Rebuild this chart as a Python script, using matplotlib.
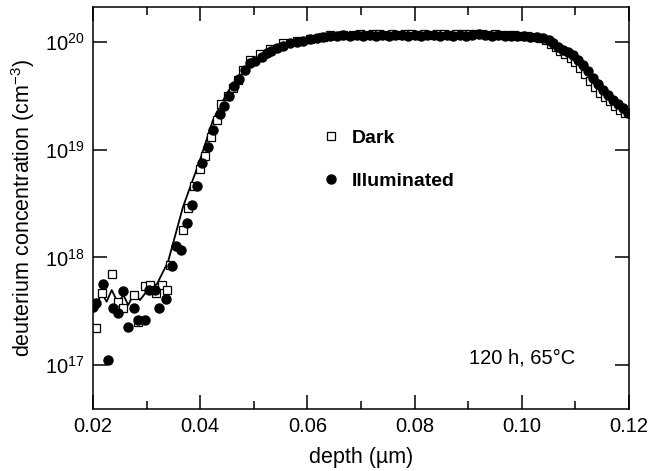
import numpy as np
import matplotlib
matplotlib.use("Agg")
import matplotlib.pyplot as plt
from matplotlib.ticker import MultipleLocator, LogLocator, NullLocator

plt.rcParams['font.family'] = ['Liberation Sans', 'DejaVu Sans']
plt.rcParams['mathtext.fontset'] = 'custom'
plt.rcParams['mathtext.rm'] = 'Liberation Sans'
plt.rcParams['mathtext.it'] = 'Liberation Sans:italic'

# illuminated sample (filled circles): depth in um, log10 of concentration
illum_depth = [0.0200, 0.02056, 0.0218, 0.02274, 0.02379, 0.0246, 0.02566, 0.0266, 0.02765, 0.02845,
               0.0297, 0.0305, 0.03157, 0.03237, 0.03362, 0.03468, 0.03549, 0.03636, 0.03748, 0.03841,
               0.03935, 0.04034, 0.04151, 0.04233, 0.04369, 0.04444, 0.04537, 0.04631, 0.04729, 0.04836,
               0.04929, 0.05022, 0.05147, 0.05241, 0.0533, 0.05427, 0.0555, 0.05675, 0.058, 0.05924,
               0.0605, 0.06173, 0.063, 0.06422, 0.0655, 0.0667,
               0.0680, 0.0692, 0.0704, 0.0716, 0.0728, 0.0740, 0.0752, 0.0764, 0.0776, 0.0788,
               0.0800, 0.0812, 0.0824, 0.0836, 0.0848, 0.0860, 0.0872, 0.0884, 0.0896, 0.0908,
               0.0920, 0.0932, 0.0944, 0.0956, 0.0968, 0.0980, 0.0992, 0.1004, 0.1016, 0.1028,
               0.1040, 0.1050, 0.1058, 0.1068, 0.1077, 0.1086, 0.1096, 0.1105, 0.1114, 0.1123,
               0.1133, 0.1142, 0.1152, 0.1161, 0.1170, 0.1179, 0.1189, 0.1198]
illum_log = [17.54, 17.574, 17.75, 17.047, 17.527, 17.48, 17.69, 17.35, 17.527, 17.42,
             17.42, 17.70, 17.70, 17.527, 17.61, 17.92, 18.106, 18.07, 18.317, 18.487,
             18.663, 18.881, 19.028, 19.183, 19.331, 19.406, 19.499, 19.591, 19.654, 19.740,
             19.808, 19.826, 19.864, 19.895, 19.920, 19.942, 19.965, 19.988, 20.000, 20.012,
             20.025, 20.034, 20.045, 20.056, 20.058, 20.065,
             20.055, 20.062, 20.058, 20.066, 20.060, 20.064, 20.058, 20.063, 20.067, 20.060,
             20.064, 20.058, 20.062, 20.066, 20.060, 20.063, 20.058, 20.064, 20.060, 20.066,
             20.070, 20.064, 20.060, 20.062, 20.058, 20.056, 20.055, 20.052, 20.050, 20.045,
             20.037, 20.015, 19.991, 19.955, 19.926, 19.905, 19.879, 19.83, 19.786, 19.73,
             19.666, 19.61, 19.554, 19.51, 19.461, 19.42, 19.387, 19.341]

# dark sample (open squares)
dark_depth = [0.0205, 0.0216, 0.0235, 0.0247, 0.02566, 0.02765, 0.02845, 0.0297, 0.03063, 0.0317,
              0.03282, 0.03375, 0.03437, 0.03685, 0.03778, 0.03884, 0.03996, 0.0409, 0.04201, 0.04308,
              0.04382, 0.04513, 0.04612, 0.04711, 0.04804, 0.04929, 0.05116, 0.05302, 0.0555, 0.058,
              0.0605, 0.063, 0.06422, 0.0667,
              0.0686, 0.0698, 0.0710, 0.0722, 0.0734, 0.0746, 0.0758, 0.0770, 0.0782, 0.0794,
              0.0806, 0.0818, 0.0830, 0.0842, 0.0854, 0.0866, 0.0878, 0.0890, 0.0902, 0.0914,
              0.0926, 0.0938, 0.0950, 0.0962, 0.0974, 0.0986, 0.0998, 0.1010, 0.1022, 0.1034,
              0.1045, 0.1054, 0.1063, 0.1072, 0.1081, 0.1091, 0.1100, 0.1109, 0.1118, 0.1128,
              0.1137, 0.1146, 0.1156, 0.1165, 0.1174, 0.1184, 0.1193]
dark_log = [17.34, 17.667, 17.846, 17.59, 17.527, 17.65, 17.40, 17.73, 17.744, 17.667,
            17.744, 17.70, 17.93, 18.254, 18.463, 18.666, 18.824, 18.937, 19.121, 19.276,
            19.424, 19.499, 19.573, 19.647, 19.740, 19.833, 19.889, 19.935, 19.988, 20.010,
            20.030, 20.048, 20.062, 20.068,
            20.068, 20.072, 20.066, 20.074, 20.070, 20.066, 20.072, 20.068, 20.074, 20.070,
            20.066, 20.072, 20.068, 20.074, 20.070, 20.066, 20.072, 20.070, 20.074, 20.078,
            20.072, 20.068, 20.070, 20.066, 20.064, 20.062, 20.058, 20.055, 20.050, 20.040,
            20.02, 19.985, 19.95, 19.915, 19.885, 19.855, 19.81, 19.76, 19.70, 19.64,
            19.58, 19.53, 19.49, 19.45, 19.41, 19.37, 19.34]

# solid line
line_depth = [0.02006, 0.02162, 0.02256, 0.02349, 0.02472, 0.02565, 0.02659, 0.02765, 0.02877, 0.03063,
              0.03194, 0.03399, 0.03679, 0.03996, 0.04239, 0.045, 0.04799, 0.05246, 0.05675, 0.06179,
              0.06739, 0.075, 0.085, 0.095, 0.100, 0.10396, 0.10582, 0.10769, 0.10955, 0.11142,
              0.11328, 0.11515, 0.11701, 0.11888, 0.11981]
line_log = [17.496, 17.667, 17.589, 17.697, 17.574, 17.651, 17.558, 17.667, 17.604, 17.725,
            17.753, 17.957, 18.468, 18.904, 19.276, 19.526, 19.740, 19.898, 19.991, 20.046,
            20.065, 20.07, 20.07, 20.075, 20.065, 20.046, 20.0, 19.944, 19.879, 19.796,
            19.684, 19.573, 19.471, 19.387, 19.350]

fig = plt.figure(figsize=(6.52, 4.71), dpi=100)
ax = fig.add_axes([0.1426, 0.1316, 0.8221, 0.8535])

ax.plot(line_depth, 10 ** np.array(line_log), '-', color='black', lw=1.3, zorder=1)
ax.plot(dark_depth, 10 ** np.array(dark_log), 's', mfc='white', mec='black', mew=0.9, ms=6,
        ls='none', label='Dark', zorder=2)
ax.plot(illum_depth, 10 ** np.array(illum_log), 'o', mfc='black', mec='black', ms=6.5,
        ls='none', label='Illuminated', zorder=3)

ax.set_yscale('log')
ax.set_xlim(0.02, 0.12)
ax.set_ylim(10 ** 16.592, 10 ** 20.325)
ax.xaxis.set_major_locator(MultipleLocator(0.02))
ax.xaxis.set_minor_locator(MultipleLocator(0.01))
ax.xaxis.set_major_formatter(matplotlib.ticker.FormatStrFormatter('%.2f'))
ax.yaxis.set_major_locator(LogLocator(base=10, numticks=10))
ax.yaxis.set_minor_locator(NullLocator())

ax.tick_params(which='both', direction='in', top=True, right=True, width=1.1, labelsize=14.5)
ax.tick_params(which='major', length=10, pad=6)
ax.tick_params(which='minor', length=5.5)
for s in ax.spines.values():
    s.set_linewidth(1.1)

ax.set_xlabel('depth (\u00b5m)', fontsize=15.5, labelpad=8)
ax.set_ylabel('deuterium concentration (cm$^{-3}$)', fontsize=15.5, labelpad=6)

leg = ax.legend(loc='upper left', bbox_to_anchor=(0.393, 0.74), frameon=False,
                prop={'weight': 'bold', 'size': 14}, handlelength=1.0, handletextpad=0.6,
                labelspacing=1.3, numpoints=1)

ax.text(0.80, 0.127, '120 h, 65\u00b0C', transform=ax.transAxes, ha='center', va='center',
        fontsize=14.5)

fig.savefig('out.png', dpi=100)
